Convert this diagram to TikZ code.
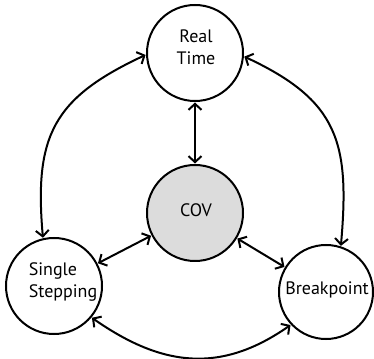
\documentclass[tikz,border=0pt]{standalone}
\usepackage{fontspec}
\setmainfont{PT Sans}
\usetikzlibrary{arrows.meta}
\definecolor{covfill}{RGB}{220,220,220}
\tikzset{
  x=1pt, y=1pt,
  state/.style={circle, draw=black, line width=2pt, fill=white, inner sep=0pt},
  lbl/.style={font=\fontsize{18}{22}\selectfont, inner sep=0pt, align=center},
  conn/.style={line width=2pt, {Straight Barb[length=6pt,width=13pt,line width=2pt]}-{Straight Barb[length=6pt,width=13pt,line width=2pt]}, shorten <=0.5pt, shorten >=0.5pt},
}
\begin{document}
\begin{tikzpicture}
\useasboundingbox (0,0) rectangle (374,358);
\node[state, minimum size=96pt] (rt) at (195,305) {};
\node[state, minimum size=96pt, fill=covfill] (cov) at (195,145) {};
\node[state, minimum size=96pt] (ss) at (54,72) {};
\node[state, minimum size=94pt] (bp) at (326,66) {};
\node[lbl] (rtt) at (196,310.5) {Real\\Time};
\node[lbl, align=left] (sst) at (63,76) {Single\\Stepping};
\node[lbl, anchor=base] (bpt) at (327,63) {Breakpoint};
\node[lbl, anchor=base] (covt) at (196,141) {COV};
\draw[conn] (rt.south) -- (cov.north);
\draw[conn] (ss) -- (cov);
\draw[conn] (cov) -- (bp);
\draw[conn] (rt.182) to[out=205, in=95, looseness=1.25] (ss.103);
\draw[conn] (rt.-4) to[out=-25, in=85, looseness=1.25] (bp.72);
\draw[conn] (ss.-40) to[out=-35, in=-145, looseness=1.1] (bp.-137);
\end{tikzpicture}
\end{document}
